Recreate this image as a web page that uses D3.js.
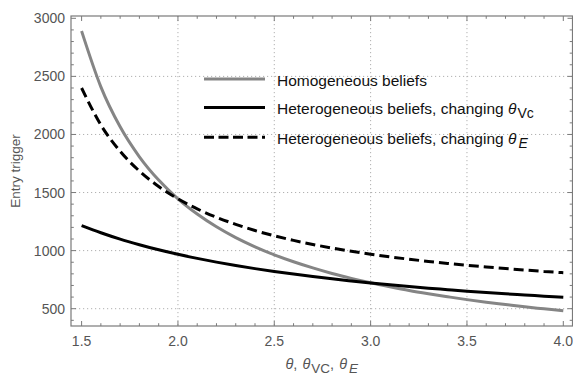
<!DOCTYPE html>
<html>
<head>
<meta charset="utf-8">
<script src="https://cdn.jsdelivr.net/npm/d3@7"></script>
<style>
  html, body { margin: 0; padding: 0; background: #fff; }
  svg { display: block; font-family: "Liberation Sans", Arial, sans-serif; }
</style>
</head>
<body>
<svg id="chart" width="573" height="376"></svg>
<script>
// θ grid and entry-trigger values for the three belief scenarios
const theta = [1.5, 1.6, 1.7, 1.8, 1.9, 2.0, 2.1, 2.2, 2.3, 2.4, 2.5, 2.6, 2.7,
               2.8, 2.9, 3.0, 3.1, 3.2, 3.3, 3.4, 3.5, 3.6, 3.7, 3.8, 3.9, 4.0];
const homogeneous = [2890, 2410, 2066, 1808, 1607, 1446, 1315, 1205, 1112, 1033, 964, 904, 851,
                     803, 761, 723, 689, 657, 629, 603, 578, 556, 536, 516, 499, 482];
const heteroVC = [1215, 1154, 1099, 1051, 1007, 968, 933, 901, 872, 845, 820, 798, 777,
                  757, 739, 722, 706, 691, 677, 664, 651, 639, 628, 618, 608, 598];
const heteroE = [2400, 2082, 1855, 1685, 1552, 1446, 1359, 1287, 1226, 1173, 1128, 1088, 1053,
                 1022, 994, 969, 946, 926, 907, 890, 874, 859, 846, 833, 821, 810];

const xTicks = [1.5, 2.0, 2.5, 3.0, 3.5, 4.0];
const yTicks = [500, 1000, 1500, 2000, 2500, 3000];
const xGrid = [2.0, 2.5, 3.0, 3.5];
const yGrid = [500, 1000, 1500, 2000, 2500];

const svg = d3.select("#chart");
const pLeft = 71, pRight = 572.5, pTop = 16, pBottom = 326;

const x = d3.scaleLinear().domain([1.5, 4.0]).range([81.6, 563.3]);
const y = d3.scaleLinear().domain([500, 3000]).range([308.7, 18.3]);

const frameColor = "#7a7a7a";
const labelColor = "#555";

// dotted grid
const grid = svg.append("g").attr("stroke", "#b0b0b0").attr("stroke-width", 1)
  .attr("stroke-dasharray", "1.2,2.8");
grid.selectAll("line.vx").data(xGrid).join("line")
  .attr("x1", d => x(d)).attr("x2", d => x(d)).attr("y1", pTop).attr("y2", pBottom);
grid.selectAll("line.hy").data(yGrid).join("line")
  .attr("y1", d => y(d)).attr("y2", d => y(d)).attr("x1", pLeft).attr("x2", pRight);

// frame with inward ticks on all four sides
const xMinor = d3.range(15, 41).map(d => d / 10).filter(d => !xTicks.includes(d));
const yMinor = d3.range(4, 31).map(d => d * 100).filter(d => !yTicks.includes(d) && d < 3020);

const tk = svg.append("g").attr("stroke", frameColor).attr("stroke-width", 1);
function xTickMarks(vals, len) {
  vals.forEach(v => {
    tk.append("line").attr("x1", x(v)).attr("x2", x(v)).attr("y1", pBottom).attr("y2", pBottom - len);
    tk.append("line").attr("x1", x(v)).attr("x2", x(v)).attr("y1", pTop).attr("y2", pTop + len);
  });
}
function yTickMarks(vals, len) {
  vals.forEach(v => {
    tk.append("line").attr("y1", y(v)).attr("y2", y(v)).attr("x1", pLeft).attr("x2", pLeft + len);
    tk.append("line").attr("y1", y(v)).attr("y2", y(v)).attr("x1", pRight).attr("x2", pRight - len);
  });
}
xTickMarks(xTicks, 5); xTickMarks(xMinor, 2.8);
yTickMarks(yTicks, 5); yTickMarks(yMinor, 2.8);

svg.append("rect").attr("x", pLeft).attr("y", pTop)
  .attr("width", pRight - pLeft).attr("height", pBottom - pTop)
  .attr("fill", "none").attr("stroke", frameColor).attr("stroke-width", 1.2);

// tick labels
svg.append("g").selectAll("text").data(xTicks).join("text")
  .attr("x", d => x(d)).attr("y", 345.5).attr("text-anchor", "middle")
  .attr("fill", labelColor).attr("font-size", 14)
  .text(d => d.toFixed(1));
svg.append("g").selectAll("text").data(yTicks).join("text")
  .attr("x", 65).attr("y", d => y(d) + 5).attr("text-anchor", "end")
  .attr("fill", labelColor).attr("font-size", 14)
  .text(d => d);

// axis titles
svg.append("text").attr("transform", `translate(20,${(pTop + pBottom) / 2}) rotate(-90)`)
  .attr("text-anchor", "middle").attr("fill", labelColor).attr("font-size", 13.5)
  .text("Entry trigger");

const xt = svg.append("text").attr("x", (pLeft + pRight) / 2).attr("y", 369)
  .attr("text-anchor", "middle").attr("fill", labelColor).attr("font-size", 14.5);
xt.append("tspan").attr("font-style", "italic").text("θ");
xt.append("tspan").text(", ");
xt.append("tspan").attr("dx", 1).attr("font-style", "italic").text("θ");
xt.append("tspan").attr("dx", 1).attr("dy", 4).attr("font-size", 13.5).text("VC");
xt.append("tspan").attr("dy", -4).text(", ");
xt.append("tspan").attr("dx", 1).attr("font-style", "italic").text("θ");
xt.append("tspan").attr("dx", 2).attr("dy", 4).attr("font-size", 13.5).attr("font-style", "italic").text("E");

// curves
const line = d3.line().x((d, i) => x(theta[i])).y(d => y(d)).curve(d3.curveMonotoneX);
const series = [
  { values: homogeneous, color: "#858585", dash: null },
  { values: heteroVC, color: "#000", dash: null },
  { values: heteroE, color: "#000", dash: "10,5" }
];
svg.append("g").selectAll("path").data(series).join("path")
  .attr("d", d => line(d.values))
  .attr("fill", "none").attr("stroke", d => d.color).attr("stroke-width", 3)
  .attr("stroke-dasharray", d => d.dash);

// legend
const legendRows = [
  { color: "#858585", dash: null, y: 79 },
  { color: "#000", dash: null, y: 107.5 },
  { color: "#000", dash: "10,4.5", y: 137.3 }
];
const lg = svg.append("g");
lg.selectAll("line").data(legendRows).join("line")
  .attr("x1", 204).attr("x2", 265).attr("y1", d => d.y).attr("y2", d => d.y)
  .attr("stroke", d => d.color).attr("stroke-width", 3).attr("stroke-dasharray", d => d.dash);

const t1 = lg.append("text").attr("x", 277).attr("y", 85.5).attr("font-size", 15.5).attr("fill", "#111");
t1.text("Homogeneous beliefs");
const t2 = lg.append("text").attr("x", 277).attr("y", 114).attr("font-size", 15.5).attr("fill", "#111");
t2.append("tspan").text("Heterogeneous beliefs, changing ");
t2.append("tspan").attr("font-style", "italic").text("θ");
t2.append("tspan").attr("dx", 1).attr("dy", 4).attr("font-size", 14).text("Vc");
const t3 = lg.append("text").attr("x", 277).attr("y", 144).attr("font-size", 15.5).attr("fill", "#111");
t3.append("tspan").text("Heterogeneous beliefs, changing ");
t3.append("tspan").attr("font-style", "italic").text("θ");
t3.append("tspan").attr("dx", 2).attr("dy", 4).attr("font-size", 14).attr("font-style", "italic").text("E");
</script>
</body>
</html>
